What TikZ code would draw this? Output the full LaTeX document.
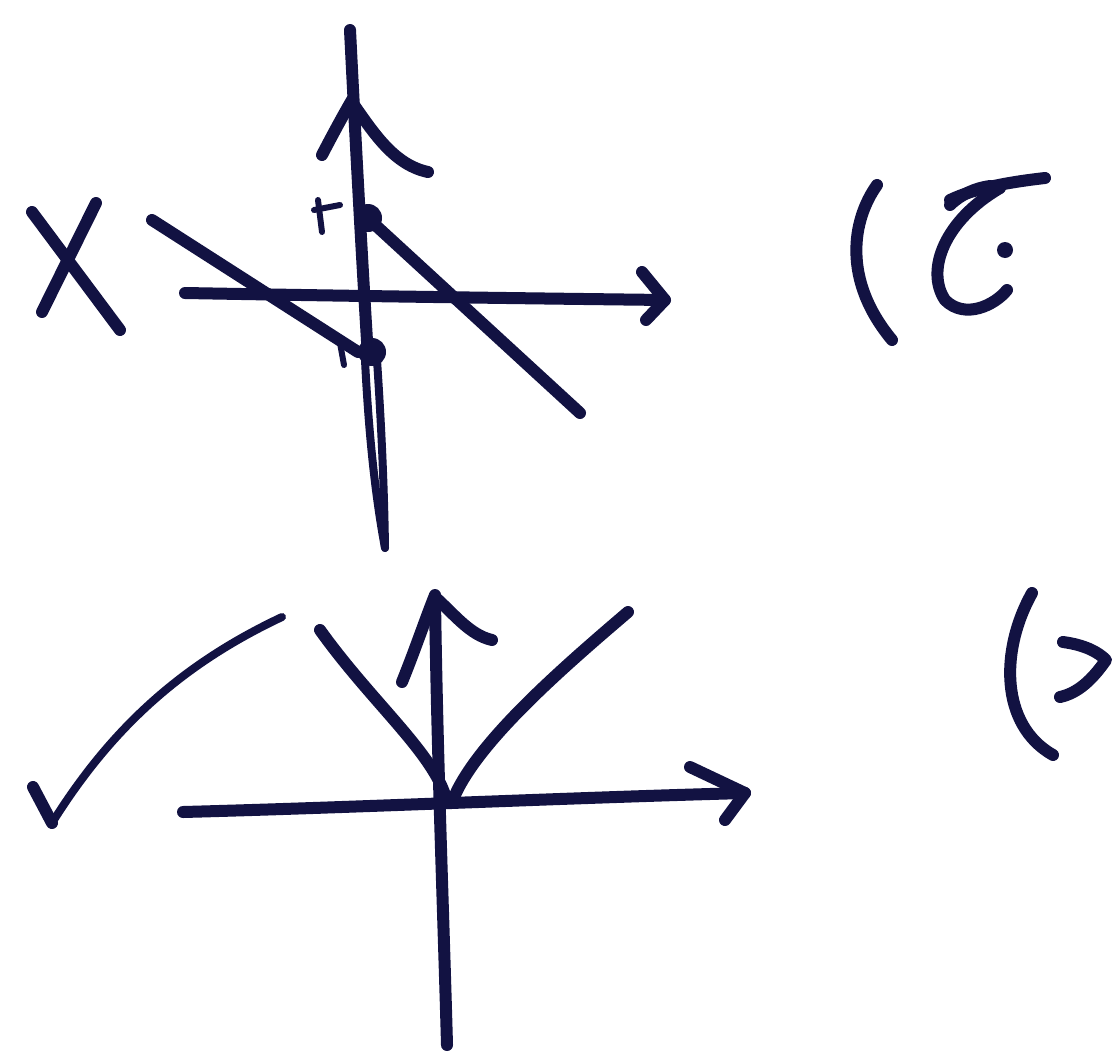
\documentclass[tikz,border=0pt]{standalone}
\usetikzlibrary{calc}
\definecolor{ink}{RGB}{18,18,66}
\tikzset{
  pen/.style={draw=ink, line width=12pt, line cap=round, line join=round},
  thinpen/.style={draw=ink, line width=8pt, line cap=round, line join=round},
  dotmark/.style={circle, fill=ink, inner sep=0pt, minimum size=28pt}
}
\begin{document}
\begin{tikzpicture}[x=1pt,y=-1pt]
\useasboundingbox[fill=white] (0,0) rectangle (1113,1060);
% ---------- top figure ----------
% X mark
\draw[pen] (96,203) -- (42,312);
\draw[pen] (32,212) -- (120,330);
% vertical axis
\draw[pen] (350,30) .. controls (356,150) and (362,260) .. (368,357);
\draw[thinpen] (365,360) .. controls (369,440) and (376,500) .. (385,548);
\draw[thinpen] (377,360) .. controls (381,420) and (384,480) .. (385,548);
% its arrowhead
\draw[pen] (322,155) .. controls (335,130) and (345,112) .. (352,100);
\draw[pen] (354,105) .. controls (375,135) and (395,165) .. (428,172);
% horizontal axis
\draw[pen] (185,293) .. controls (350,296) and (500,298) .. (665,300);
\draw[pen] (642,272) -- (665,300) -- (646,320);
% slanted lines
\draw[pen] (152,220) -- (358,352);
\draw[pen] (372,222) -- (580,413);
% dots
\node[dotmark] (p1) at (368,218) {};
\node[dotmark] (p2) at (372,352) {};
% small scribbles near dots
\draw[thinpen, line width=6pt] (318,200) -- (322,232);
\draw[thinpen, line width=6pt] (314,210) -- (340,205);
\draw[thinpen, line width=6pt] (340,343) -- (344,365);
% label "(C."
\draw[pen] (877,185) .. controls (852,220) and (842,280) .. (892,340);
\draw[pen] (1045,178) .. controls (1010,182) and (975,188) .. (950,200);
\draw[pen] (950,205) .. controls (960,195) and (975,188) .. (990,186);
\draw[pen] (1000,188) .. controls (945,220) and (925,270) .. (945,300)
      .. controls (965,320) and (995,305) .. (1007,290);
\fill[ink] (1005,250) circle (8pt);
% ---------- bottom figure ----------
% check mark
\draw[pen] (33,787) -- (52,823);
\draw[thinpen] (52,823) .. controls (110,730) and (180,665) .. (282,617);
% horizontal axis
\draw[pen] (183,812) .. controls (370,807) and (560,798) .. (745,793);
\draw[pen] (690,767) -- (745,793) -- (725,820);
% vertical axis
\draw[pen] (435,598) .. controls (437,750) and (443,900) .. (447,1045);
\draw[pen] (402,682) .. controls (415,650) and (425,620) .. (435,595);
\draw[pen] (435,597) .. controls (455,615) and (470,635) .. (492,640);
% V shape
\draw[pen] (320,630) .. controls (370,700) and (430,750) .. (445,795);
\draw[pen] (628,612) .. controls (560,670) and (480,740) .. (455,795);
% label "(>"
\draw[pen] (1032,593) .. controls (1000,650) and (1000,725) .. (1053,755);
\draw[pen] (1063,642) .. controls (1085,645) and (1098,652) .. (1106,660)
      .. controls (1092,680) and (1078,693) .. (1060,697);
\end{tikzpicture}
\end{document}
